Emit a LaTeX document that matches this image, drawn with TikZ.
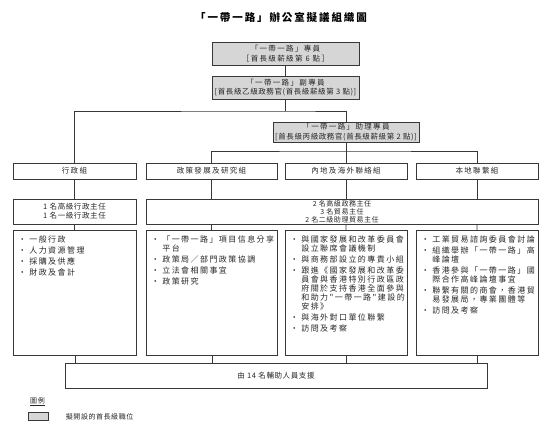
\documentclass[tikz,border=0pt]{standalone}
\usepackage{fontspec}
\newfontfamily\cjk[LetterSpace=18]{Noto Sans CJK TC}
\newfontfamily\cjkm[LetterSpace=8]{Noto Sans CJK TC}
\newfontfamily\cjkn{Noto Sans CJK TC}
\usepackage{xcolor}
\usetikzlibrary{positioning}
\definecolor{chiefgray}{gray}{0.84}
\definecolor{linegray}{gray}{0.22}
\definecolor{textgray}{gray}{0.15}
% bullet item and top-aligned duty list
\newcommand{\itm}[1]{\par\hangindent=11pt\hangafter=1\noindent\makebox[11pt][l]{•}#1\par\vspace{2pt}}
\newcommand{\duties}[2]{\parbox[c][125pt][t]{#1}{\cjk\fontsize{8}{9}\selectfont\leftskip=5pt\vspace*{5pt}#2}}

\begin{document}
\begin{tikzpicture}[
  x=1pt, y=-1pt,
  font=\cjk\fontsize{7.5}{9.5}\selectfont, text=textgray,
  chief/.style={draw=linegray, line width=0.7pt, fill=chiefgray, minimum height=23pt, inner sep=0pt, align=center},
  grp/.style={draw=linegray, line width=0.7pt, minimum height=16pt, inner sep=0pt, align=center},
  staff/.style={draw=linegray, line width=0.7pt, minimum height=25pt, inner sep=0pt, align=center, font=\cjkm\fontsize{7.5}{8.7}\selectfont},
  duty/.style={draw=linegray, line width=0.7pt, anchor=north west, inner sep=0pt},
  link/.style={linegray, line width=0.7pt},
]
\useasboundingbox (0,0) rectangle (550,425);

% title
\node[font=\cjk\bfseries\fontsize{10.5}{12}\selectfont, text=black] (title) at (281,17) {「一帶一路」辦公室擬議組織圖};

% directorate posts
\node[chief, minimum width=147pt] (head) at (285.5,53.5) {「一帶一路」專員\\{}［首長級薪級第 6 點］};
\node[chief, minimum width=147pt] (deputy) at (285.5,87.5)
  {「一帶一路」副專員\\{\cjkm [首長級乙級政務官(首長級薪級第 3 點)]}};
\node[chief, minimum width=146pt, minimum height=20pt] (asst) at (346,132)
  {「一帶一路」助理專員\\{\cjkm [首長級丙級政務官(首長級薪級第 2 點)]}};

% groups
\node[grp, minimum width=123pt] (gadm) at (74.5,171) {行政組};
\node[grp, minimum width=131pt] (gpol) at (211.5,171) {政策發展及研究組};
\node[grp, minimum width=122pt] (gext) at (346,171) {內地及海外聯絡組};
\node[grp, minimum width=122pt] (gloc) at (477,171) {本地聯繫組};

% staff
\node[staff, minimum width=123pt] (sadm) at (74.5,211.5) {1 名高級行政主任\\1 名一級行政主任};
\node[staff, minimum width=392pt, font=\cjkm\fontsize{7}{7.9}\selectfont] (sall) at (342,211.5)
  {2 名高級政務主任\\3 名貿易主任\\2 名二級助理貿易主任};

% duties
\node[duty] (ladm) at (13,230) {\duties{123pt}{%
  \itm{一般行政}
  \itm{人力資源管理}
  \itm{採購及供應}
  \itm{財政及會計}}};
\node[duty] (lpol) at (146,230) {\duties{131pt}{%
  \itm{「一帶一路」項目信息分享\\平台}
  \itm{政策局／部門政策協調}
  \itm{立法會相關事宜}
  \itm{政策研究}}};
\node[duty] (lext) at (285,230) {\duties{122pt}{%
  \itm{與國家發展和改革委員會\\設立聯席會議機制}
  \itm{與商務部設立的專責小組}
  \itm{跟進《國家發展和改革委\\員會與香港特別行政區政\\府關於支持香港全面參與\\和助力"一帶一路"建設的\\安排》}
  \itm{與海外對口單位聯繫}
  \itm{訪問及考察}}};
\node[duty] (lloc) at (416,230) {\duties{122pt}{%
  \itm{工業貿易諮詢委員會討論}
  \itm{組織舉辦「一帶一路」高\\峰論壇}
  \itm{香港參與「一帶一路」國\\際合作高峰論壇事宜}
  \itm{聯繫有關的商會，香港貿\\易發展局，專業團體等}
  \itm{訪問及考察}}};

% support staff
\node[staff, minimum width=422pt] (support) at (276,375.5) {由 14 名輔助人員支援};

% legend
\node[font=\cjkm\fontsize{7}{8}\selectfont] (legtitle) at (37.5,402) {\underline{圖例}};
\node[draw=linegray, line width=0.7pt, fill=chiefgray, minimum width=20pt, minimum height=8pt, inner sep=0pt] (legbox) at (38,416.5) {};
\node[right=14pt of legbox, font=\cjkm\fontsize{7}{8}\selectfont] (legtext) {擬開設的首長級職位};

% connectors
\coordinate (busA) at (285.5,111);
\coordinate (busB) at (346,151);
\draw[link] (head) -- (deputy);
\draw[link] (deputy) -- (busA);
\draw[link] (gadm.north) |- (busA) -| (asst.north);
\draw[link] (asst) -- (busB);
\draw[link] (gpol.north) |- (busB) -| (gloc.north);
\draw[link] (busB) -- (gext);
\draw[link] (gadm) -- (sadm);
\draw[link] (sadm) -- (ladm);
\foreach \g/\l in {gpol/lpol, gext/lext, gloc/lloc} {
  \draw[link] (\g) -- (\g |- sall.north);
  \draw[link] (\g |- sall.south) -- (\l);
}
\foreach \l in {ladm, lpol, lext, lloc}
  \draw[link] (\l.south) -- (\l.south |- support.north);
\end{tikzpicture}
\end{document}
